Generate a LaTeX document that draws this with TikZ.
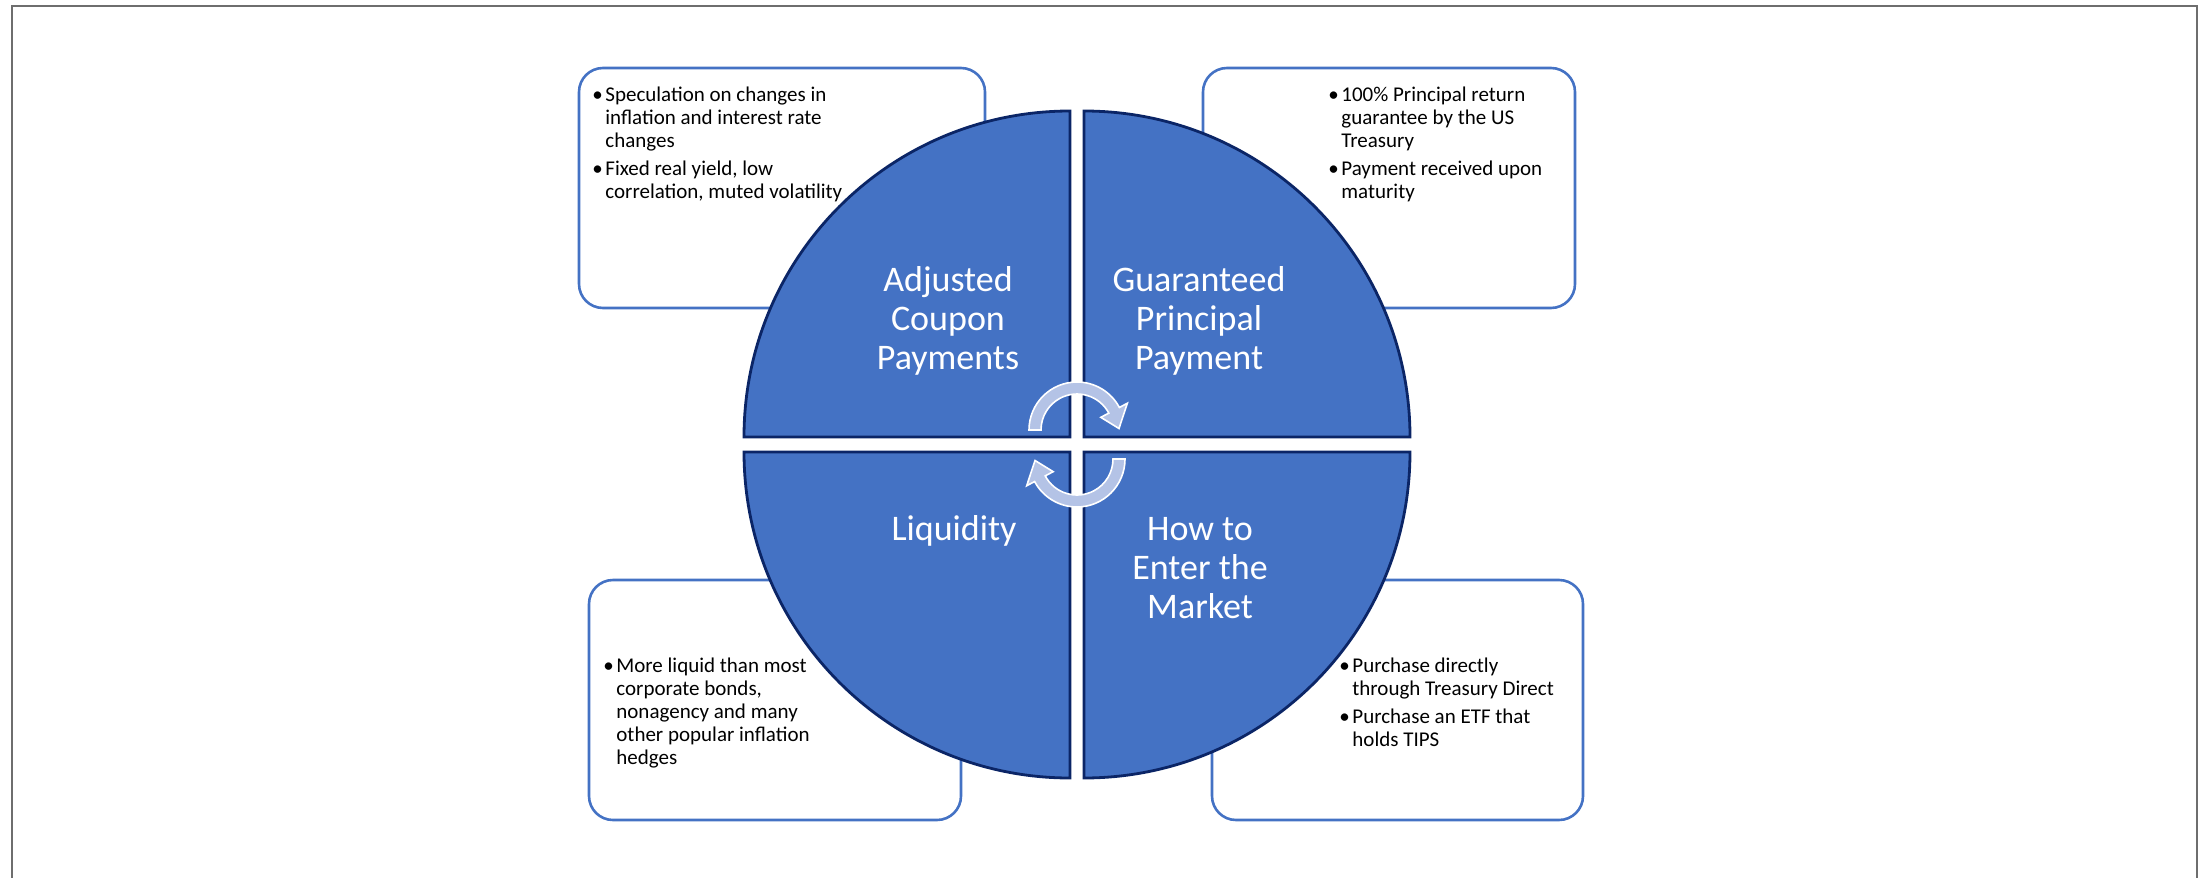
\documentclass[tikz,border=0pt]{standalone}
\usepackage{fontspec}
\setmainfont{Carlito}

\definecolor{quadfill}{HTML}{4472C4}
\definecolor{quadline}{HTML}{0B2566}
\definecolor{boxline}{HTML}{4472C4}
\definecolor{turnfill}{HTML}{B4C3E6}
\definecolor{framegray}{HTML}{6E6E6E}

\newcommand{\tipbullet}{\makebox[5.5pt][r]{\textbullet\hspace{1.3pt}}}

\tikzset{
	notebox/.style={draw=boxline, line width=1.3pt, fill=white, rounded corners=12pt, inner sep=0pt},
	quadrant/.style={fill=quadfill, draw=quadline, line width=1.4pt},
	quadlabel/.style={text=white, align=center, inner sep=0pt, font=\fontsize{18pt}{19.5pt}\selectfont},
	notetext/.style={anchor=base west, inner sep=0pt, font=\fontsize{10.5pt}{11.5pt}\selectfont},
	cyclearrow/.pic={
		\filldraw[fill=turnfill, draw=white, line width=0.8pt, line join=miter]
			(180:48) arc[start angle=180, end angle=332, radius=48] -- (332:57) -- (358:42) -- (332:27) -- (332:36)
			arc[start angle=332, end angle=180, radius=36] -- cycle;
	}
}

\begin{document}
\begin{tikzpicture}[x=0.5pt, y=-0.5pt]
	\useasboundingbox (0,0) rectangle (2201,878);
	\draw[framegray, line width=0.8pt] (12,890) -- (12,6) -- (2197,6) -- (2197,890);

	% boxes behind the circle
	\node[notebox, minimum width=203pt, minimum height=120pt] (boxCoupon) at (782,188) {};
	\node[notebox, minimum width=186pt, minimum height=120pt] (boxPrincipal) at (1389,188) {};
	\node[notebox, minimum width=186pt, minimum height=120pt] (boxLiquidity) at (775,700) {};
	\node[notebox, minimum width=185.5pt, minimum height=120pt] (boxMarket) at (1397.5,700) {};

	% four quarters of the circle
	\filldraw[quadrant] (1070,437) -- (744,437) arc[start angle=180, end angle=270, radius=326] -- cycle;
	\filldraw[quadrant] (1084,437) -- (1084,111) arc[start angle=270, end angle=360, radius=326] -- cycle;
	\filldraw[quadrant] (1070,452) -- (744,452) arc[start angle=180, end angle=90, radius=326] -- cycle;
	\filldraw[quadrant] (1084,452) -- (1410,452) arc[start angle=0, end angle=90, radius=326] -- cycle;

	\pic at (1077,430) {cyclearrow};
	\pic[rotate=180] at (1077,459) {cyclearrow};

	\node[quadlabel] (lblCoupon) at (948,321) {Adjusted\\Coupon\\Payments};
	\node[quadlabel] (lblPrincipal) at (1199,321) {Guaranteed\\Principal\\Payment};
	\node[quadlabel] (lblLiquidity) at (954,531) {Liquidity};
	\node[quadlabel] (lblMarket) at (1200,568) {How to\\Enter the\\Market};

	\node[notetext] (txtCoupon) at (594,101) {\begin{tabular}[t]{@{}l@{}l@{}}
		\tipbullet & Speculation on changes in\\
		& inflation and interest rate\\
		& changes\\[2.5pt]
		\tipbullet & Fixed real yield, low\\
		& correlation, muted volatility
	\end{tabular}};
	\node[notetext] (txtPrincipal) at (1330,101) {\begin{tabular}[t]{@{}l@{}l@{}}
		\tipbullet & 100\% Principal return\\
		& guarantee by the US\\
		& Treasury\\[2.5pt]
		\tipbullet & Payment received upon\\
		& maturity
	\end{tabular}};
	\node[notetext] (txtLiquidity) at (605,672) {\begin{tabular}[t]{@{}l@{}l@{}}
		\tipbullet & More liquid than most\\
		& corporate bonds,\\
		& nonagency and many\\
		& other popular inflation\\
		& hedges
	\end{tabular}};
	\node[notetext] (txtMarket) at (1341,672) {\begin{tabular}[t]{@{}l@{}l@{}}
		\tipbullet & Purchase directly\\
		& through Treasury Direct\\[2.5pt]
		\tipbullet & Purchase an ETF that\\
		& holds TIPS
	\end{tabular}};
\end{tikzpicture}
\end{document}
